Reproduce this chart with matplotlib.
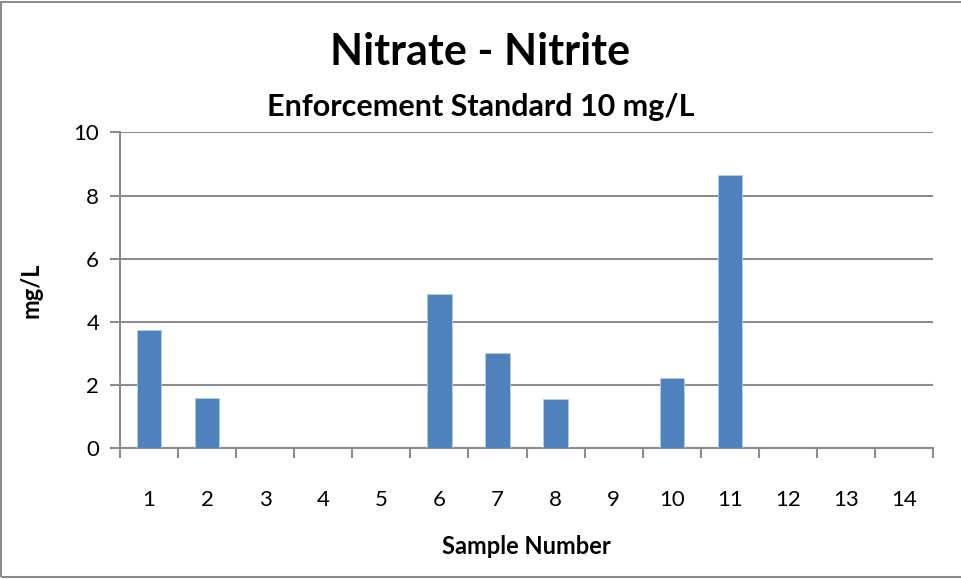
import matplotlib
matplotlib.use("Agg")
import matplotlib.pyplot as plt
from matplotlib.patches import Rectangle
import numpy as np

plt.rcParams['font.family'] = ['Lato', 'DejaVu Sans']

samples = ["1", "2", "3", "4", "5", "6", "7", "8", "9", "10", "11", "12", "13", "14"]
nitrate = [3.74, 1.60, 0, 0, 0, 4.89, 3.01, 1.55, 0, 2.23, 8.65, 0, 0, 0]
yticks = [0, 2, 4, 6, 8, 10]

bar_color = "#4F81BD"
grid_color = "#8C8C8C"

fig = plt.figure(figsize=(9.61, 5.79), dpi=100)
ax = fig.add_axes([0.1249, 0.2257, 0.846, 0.5458])

x = np.arange(len(samples))
ax.bar(x, nitrate, width=0.42, color=bar_color, edgecolor="#B7CBE4", linewidth=0.6, zorder=3)

ax.set_xlim(-0.5, len(samples) - 0.5)
ax.set_ylim(0, 10)
ax.set_yticks(yticks)
ax.set_yticklabels([str(v) for v in yticks], fontsize=16)

# category labels centred, tick marks between categories
ax.set_xticks(x)
ax.set_xticklabels(samples, fontsize=16)
ax.tick_params(axis="x", length=0, pad=30)
ax.set_xticks(np.arange(len(samples) + 1) - 0.5, minor=True)
ax.tick_params(axis="x", which="minor", length=7, width=1.5, color=grid_color)
ax.tick_params(axis="y", length=7, width=1.5, color=grid_color, pad=8)

ax.grid(axis="y", color=grid_color, linewidth=1.5, zorder=0)
for s in ["top", "right"]:
    ax.spines[s].set_visible(False)
for s in ["left", "bottom"]:
    ax.spines[s].set_color(grid_color)
    ax.spines[s].set_linewidth(1.5)

ax.set_xlabel("Sample Number", fontsize=17, fontweight="bold", labelpad=18)
ax.set_ylabel("mg/L", fontsize=17, fontweight="bold", labelpad=22)

fig.text(0.5, 0.91, "Nitrate - Nitrite", ha="center", va="center", fontsize=31, fontweight="bold")
fig.text(0.5, 0.815, "Enforcement Standard 10 mg/L", ha="center", va="center", fontsize=22, fontweight="bold")

# chart border
fig.patches.append(Rectangle((0.001, 0.003), 1.1, 0.994, transform=fig.transFigure,
                             fill=False, edgecolor="#8C8C8C", linewidth=1.5))

fig.savefig("out.png", dpi=100)
